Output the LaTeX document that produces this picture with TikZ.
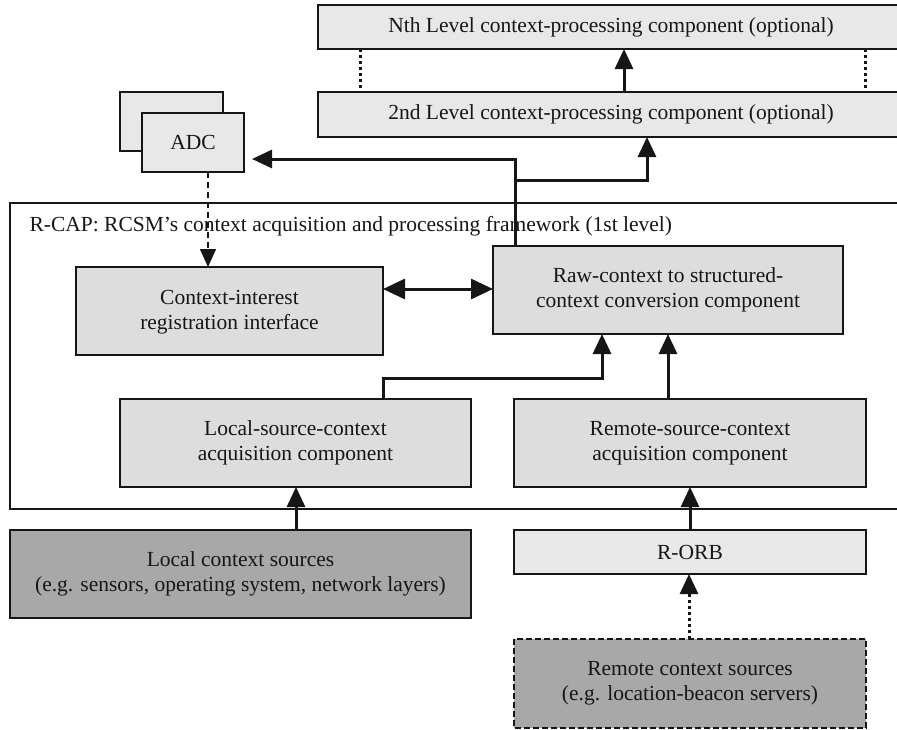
\documentclass[tikz,border=0pt]{standalone}
\usepackage{fontspec}
\setmainfont{Liberation Serif}
\usetikzlibrary{arrows.meta}
\definecolor{boxlight}{RGB}{232,232,232}
\definecolor{boxmid}{RGB}{221,221,221}
\definecolor{boxdark}{RGB}{168,168,168}
\definecolor{ink}{RGB}{22,22,22}
\tikzset{
  lbl/.style={font=\fontsize{21.5}{25.5}\selectfont, text=ink, align=center},
  panel/.style={draw=ink, line width=2pt},
  conn/.style={draw=ink, line width=3pt, -{Triangle[length=20pt,width=18pt]}},
  biconn/.style={draw=ink, line width=3pt, {Triangle[length=22pt,width=20pt]}-{Triangle[length=22pt,width=20pt]}},
  dashconn/.style={draw=ink, line width=1.5pt, dash pattern=on 6pt off 4pt, -{Triangle[length=18pt,width=16pt]}},
  dotconn/.style={draw=ink, line width=3pt, dash pattern=on 3pt off 3pt, -{Triangle[length=20pt,width=18pt]}},
  dotline/.style={draw=ink, line width=3pt, dash pattern=on 3pt off 3pt},
}
\begin{document}
\begin{tikzpicture}[x=1pt,y=-1pt]
\useasboundingbox (0,0) rectangle (897,729);

% upper processing levels
\draw[panel, fill=boxlight] (318,5) rectangle (904,49);
\node[lbl] (nth) at (611,27) {Nth Level context-processing component (optional)};
\draw[panel, fill=boxlight] (318,92) rectangle (904,137);
\node[lbl] (second) at (611,114.5) {2nd Level context-processing component (optional)};
\coordinate (nthB) at (624,49);
\coordinate (secT) at (624,92);
\coordinate (secB) at (647,137);
\draw[dotline] (360,49) -- (360,92);
\draw[dotline] (865,49) -- (865,92);
\draw[conn] (secT) -- (nthB);

% ADC (stacked)
\draw[panel, fill=boxlight] (120,92) rectangle (223,151);
\draw[panel, fill=boxlight] (142,113) rectangle (244,172);
\node[lbl] (adc) at (193,142.5) {ADC};
\coordinate (adcB) at (208,172);
\coordinate (adcR) at (252,159);

% R-CAP frame
\draw[panel] (10,203) rectangle (904,509);
\node[lbl, anchor=west] (rcap) at (26,226) {R-CAP: RCSM’s context acquisition and processing framework (1st level)};

% inner components
\draw[panel, fill=boxmid] (76,267) rectangle (383,355);
\node[lbl] (cir) at (229.5,312) {Context-interest\\registration interface};
\draw[panel, fill=boxmid] (493,246) rectangle (843,334);
\node[lbl] (raw) at (668,290) {Raw-context to structured-\\context conversion component};
\draw[panel, fill=boxmid] (120,399) rectangle (471,487);
\node[lbl] (lsc) at (295.5,443) {Local-source-context\\acquisition component};
\draw[panel, fill=boxmid] (514,399) rectangle (866,487);
\node[lbl] (rsc) at (690,443) {Remote-source-context\\acquisition component};

% sources
\draw[panel, fill=boxdark] (10,530) rectangle (471,618);
\node[lbl] (lsrc) at (240.5,574) {Local context sources\\(e.g. sensors, operating system, network layers)};
\draw[panel, fill=boxlight] (514,530) rectangle (866,574);
\node[lbl] (rorb) at (690,552) {R-ORB};
\draw[panel, fill=boxdark, dash pattern=on 6pt off 3pt] (514,639) rectangle (866,728);
\node[lbl] (rsrc) at (690,683.5) {Remote context sources\\(e.g. location-beacon servers)};

% connectors
\coordinate (rawT) at (515,246);
\draw[conn] (rawT) -- (515,159) -- (adcR);
\draw[conn] (515,180) -- (647,180) -- (secB);
\draw[dashconn] (adcB) -- (208,267);
\draw[biconn] (383,289) -- (493,289);
\draw[conn] (383,399) -- (383,378) -- (602,378) -- (602,334);
\draw[conn] (668,399) -- (668,334);
\draw[conn] (296,530) -- (296,487);
\draw[conn] (690,530) -- (690,487);
\draw[dotconn] (689,639) -- (689,574);
\end{tikzpicture}
\end{document}
